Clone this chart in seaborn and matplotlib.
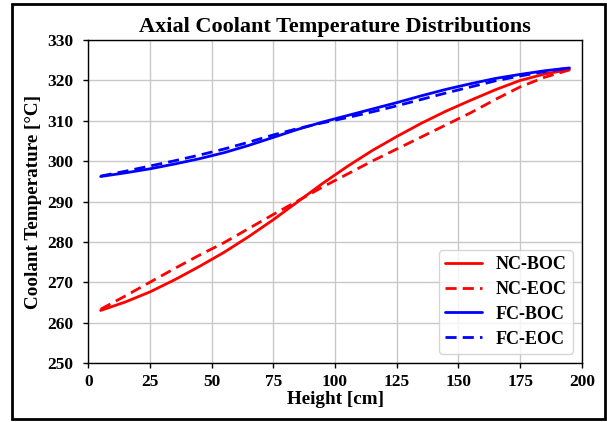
import matplotlib
matplotlib.use("Agg")
import matplotlib.pyplot as plt
import seaborn as sns
import pandas as pd
from matplotlib.patches import Rectangle

height = [5, 15, 25, 35, 45, 55, 65, 75, 85, 95, 105, 115, 125, 135, 145, 155, 165, 175, 185, 195]
nc_boc = [263.0, 265.1, 267.6, 270.6, 273.9, 277.4, 281.3, 285.5, 290.0, 294.5, 298.7, 302.6,
          306.1, 309.4, 312.4, 315.1, 317.7, 320.0, 321.6, 322.7]
nc_eoc = [263.3, 266.6, 270.0, 273.4, 276.7, 279.8, 283.3, 286.8, 290.2, 293.6, 296.8, 300.0,
          303.0, 306.0, 309.0, 312.0, 315.3, 318.4, 320.8, 322.6]
fc_boc = [296.2, 297.1, 298.1, 299.3, 300.6, 302.1, 303.9, 305.9, 307.9, 309.7, 311.3, 312.9,
          314.5, 316.2, 317.8, 319.2, 320.5, 321.5, 322.4, 323.1]
fc_eoc = [296.3, 297.5, 298.8, 300.1, 301.5, 303.0, 304.7, 306.5, 308.1, 309.5, 310.8, 312.2,
          313.7, 315.3, 316.9, 318.4, 319.9, 321.1, 322.2, 323.1]
series_names = ["NC-BOC", "NC-EOC", "FC-BOC", "FC-EOC"]
x_ticks = [0, 25, 50, 75, 100, 125, 150, 175, 200]
y_ticks = [250, 260, 270, 280, 290, 300, 310, 320, 330]

rows = []
for name, vals in zip(series_names, [nc_boc, nc_eoc, fc_boc, fc_eoc]):
    for h, v in zip(height, vals):
        rows.append({"Height": h, "Temp": v, "Series": name})
df = pd.DataFrame(rows)

sns.set_theme(style="whitegrid")
plt.rcParams['font.family'] = ['Liberation Serif', 'DejaVu Serif']
plt.rcParams['font.weight'] = 'bold'
plt.rcParams['text.color'] = 'black'
plt.rcParams['axes.labelcolor'] = 'black'
plt.rcParams['xtick.color'] = 'black'
plt.rcParams['ytick.color'] = 'black'

fig = plt.figure(figsize=(6.07, 4.22), dpi=100)
ax = fig.add_axes([0.1455, 0.140, 0.813, 0.765])

palette = {"NC-BOC": "#ff0000", "NC-EOC": "#ff0000", "FC-BOC": "#0000ff", "FC-EOC": "#0000ff"}
dashes = {"NC-BOC": "", "NC-EOC": (4, 2.2), "FC-BOC": "", "FC-EOC": (4, 2.2)}
sns.lineplot(data=df, x="Height", y="Temp", hue="Series", style="Series",
             palette=palette, dashes=dashes, hue_order=series_names,
             style_order=series_names, linewidth=2, ax=ax)

ax.set_xlim(0, 200)
ax.set_ylim(250, 330)
ax.set_xticks(x_ticks)
ax.set_yticks(y_ticks)
ax.grid(True, color="#c8c8c8", linewidth=1.0)
for s in ax.spines.values():
    s.set_color("black")
    s.set_linewidth(1.0)
ax.tick_params(axis="both", which="both", direction="out", length=3.5, width=1,
               color="black", labelcolor="black", labelsize=12.5,
               bottom=True, left=True)
ax.tick_params(axis="x", pad=4.5)
ax.tick_params(axis="y", pad=7)
for lab in ax.get_xticklabels() + ax.get_yticklabels():
    lab.set_fontweight("bold")
ax.set_xlabel("Height [cm]", fontsize=13.8, fontweight="bold", labelpad=1, color="black")
ax.set_ylabel("Coolant Temperature [\u00b0C]", fontsize=13.8, fontweight="bold", labelpad=4,
              color="black")
ax.set_title("Axial Coolant Temperature Distributions", fontsize=16, fontweight="bold",
             pad=6, color="black")

leg = ax.legend(loc="lower right", fontsize=13, frameon=True, handlelength=2.05,
                borderpad=0.35, labelspacing=0.43, handletextpad=0.72, borderaxespad=0.5)
leg.get_frame().set_edgecolor("#cccccc")
for t in leg.get_texts():
    t.set_fontweight("bold")
    t.set_color("black")

fig.patches.append(Rectangle((0.020, 0.006), 0.976, 0.984, transform=fig.transFigure,
                             fill=False, edgecolor="black", linewidth=2))

fig.savefig("out.png", dpi=100)
